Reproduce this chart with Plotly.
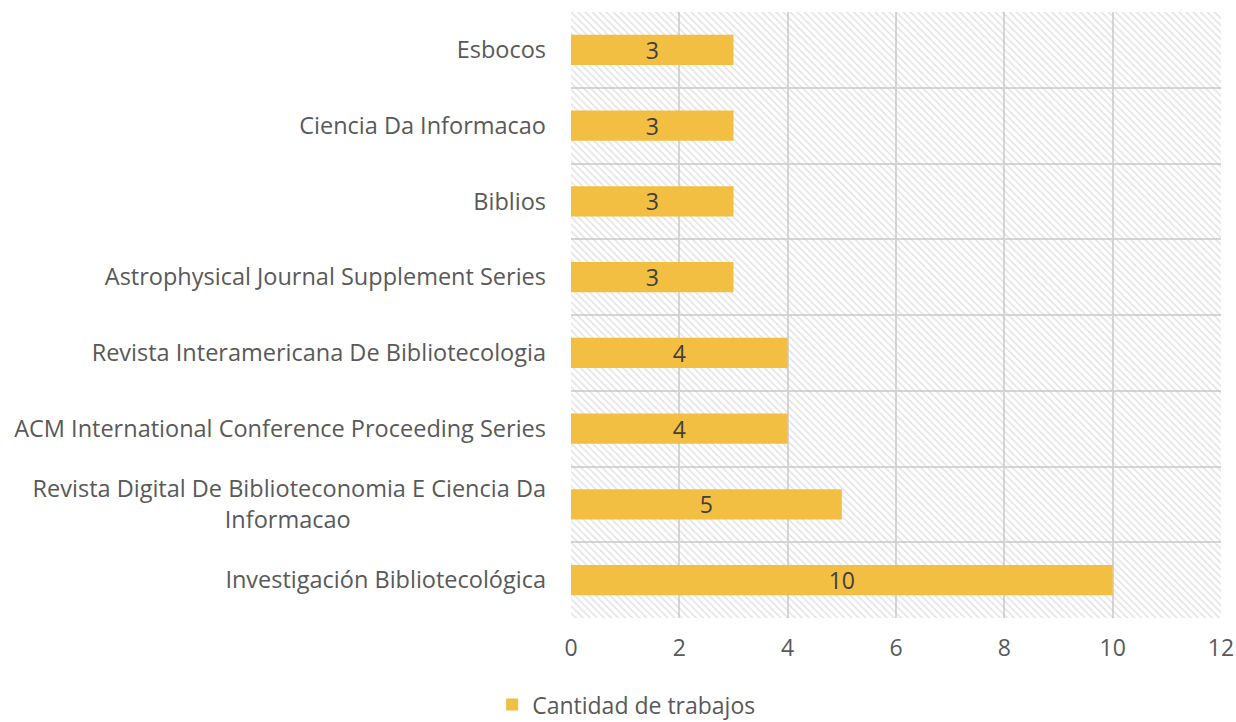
import plotly.graph_objects as go

# revistas (de abajo hacia arriba) y cantidad de trabajos
revistas = [
    "Investigación Bibliotecológica",
    "Revista Digital De Biblioteconomia E Ciencia Da<br>Informacao" + "\u00a0" * 32,
    "ACM International Conference Proceeding Series",
    "Revista Interamericana De Bibliotecologia",
    "Astrophysical Journal Supplement Series",
    "Biblios",
    "Ciencia Da Informacao",
    "Esbocos",
]
trabajos = [10, 5, 4, 4, 3, 3, 3, 3]
x_ticks = [0, 2, 4, 6, 8, 10, 12]

pos = list(range(len(revistas)))
x_max = x_ticks[-1]
FONT = "Open Sans"

fig = go.Figure()

# fondo rayado del area de trazado
fig.add_trace(go.Bar(
    y=pos, x=[x_max] * len(pos), orientation="h", width=1,
    marker=dict(color="rgba(0,0,0,0)", line=dict(width=0),
                pattern=dict(shape="\\", fgcolor="#c6c6c6", bgcolor="rgba(0,0,0,0)",
                             size=5, solidity=0.3)),
    showlegend=False, hoverinfo="skip",
))

fig.add_trace(go.Bar(
    y=pos, x=trabajos, orientation="h", width=0.4,
    name="Cantidad de trabajos",
    marker=dict(color="#F2BF42", line=dict(width=0)),
    text=trabajos, textposition="inside", insidetextanchor="middle",
    textangle=0, constraintext="none",
    textfont=dict(family=FONT, size=23, color="#404040"),
))

fig.update_layout(
    width=1236, height=722,
    margin=dict(l=571, r=15, t=12, b=104),
    barmode="overlay",
    plot_bgcolor="white", paper_bgcolor="white",
    font=dict(family=FONT, color="#595959"),
    showlegend=True,
    legend=dict(orientation="h", xref="container", x=0.507, xanchor="center",
                yref="container", y=0.024, yanchor="middle",
                font=dict(size=23, color="#595959"), itemwidth=30),
)
fig.update_xaxes(
    range=[0, x_max], tickvals=x_ticks, showgrid=True, gridcolor="#d6d6d6", gridwidth=2,
    zeroline=False, showline=False, tickfont=dict(size=23, color="#595959"),
    ticks="", ticklabelstandoff=14, automargin=False,
)
fig.update_yaxes(
    range=[-0.5, len(pos) - 0.5], tickvals=pos, ticktext=revistas,
    showgrid=False, zeroline=False, showline=False, automargin=False,
    tickfont=dict(size=23.5, color="#595959"), ticks="", ticklabelstandoff=24,
    minor=dict(tick0=0.5, dtick=1, showgrid=True, gridcolor="#d6d6d6", gridwidth=2, ticks=""),
)

# quitar el margen del body para que la figura ocupe toda la ventana
fig.write_html("out.html", config={"displayModeBar": False},
               post_script="document.body.style.margin='0';document.body.style.overflow='hidden';")
